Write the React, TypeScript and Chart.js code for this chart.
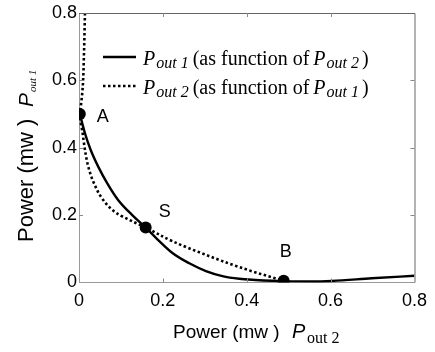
import React, { useEffect, useRef } from "react";
import { Chart, registerables } from "chart.js";

Chart.register(...registerables);

// ---- data ----
// P_out1 as a function of P_out2 (solid)
const solidX = [0.002, 0.0142, 0.0277, 0.0458, 0.0671, 0.0932, 0.127, 0.159, 0.184, 0.2236, 0.263, 0.3027, 0.342, 0.382, 0.421, 0.46, 0.488, 0.55, 0.603, 0.698, 0.8];
const solidY = [0.5, 0.443, 0.394, 0.344, 0.295, 0.245, 0.2, 0.163, 0.132, 0.0868, 0.057, 0.034, 0.019, 0.011, 0.0074, 0.005, 0.004, 0.003, 0.0045, 0.0125, 0.02];
// P_out2 as a function of P_out1 (dotted)
const dottedX = [0.0142, 0.0118, 0.0088, 0.0047, 0.002, 0.0087, 0.0142, 0.0221, 0.0356, 0.0577, 0.0893, 0.125, 0.159, 0.2236, 0.3027, 0.3816, 0.4606, 0.488];
const dottedY = [0.8, 0.676, 0.578, 0.527, 0.5, 0.443, 0.394, 0.344, 0.295, 0.245, 0.206, 0.183, 0.163, 0.122, 0.082, 0.046, 0.015, 0.005];
// marked points
const markerX = [0.002, 0.159, 0.488];
const markerY = [0.5, 0.163, 0.005];
const markerLabels = ["A", "S", "B"];
// ticks
const xTicks = [0, 0.2, 0.4, 0.6, 0.8];
const yTicks = [0, 0.2, 0.4, 0.6, 0.8];
// legend texts: [symbol, subscript, middle, symbol, subscript, end]
const legendSolid = ["P", "out 1", "(as function of", "P", "out 2", ")"];
const legendDotted = ["P", "out 2", "(as function of", "P", "out 1", ")"];
// axis titles
const xTitle = ["Power (mw )", "P", "out 2"];
const yTitle = ["Power (mw )", "P", "out 1"];

const SANS = "'Liberation Sans', Arial, sans-serif";
const SERIF = "'Liberation Serif', 'Times New Roman', serif";

const labelOffsets = [
  { dx: 17, dy: 8 },
  { dx: 13, dy: -11 },
  { dx: -4, dy: -24 },
];

function fmt(v: number) {
  return v === 0 ? "0" : v.toFixed(1);
}

const overlayPlugin = {
  id: "overlay",
  afterDraw(chart: any) {
    const ctx: CanvasRenderingContext2D = chart.ctx;
    const { left, right, top, bottom } = chart.chartArea;
    const xs = chart.scales.x;
    const ys = chart.scales.y;
    ctx.save();

    // top & right border
    ctx.strokeStyle = "#666";
    ctx.lineWidth = 1;
    ctx.beginPath();
    ctx.moveTo(left, top + 0.5);
    ctx.lineTo(right + 0.5, top + 0.5);
    ctx.lineTo(right + 0.5, bottom);
    ctx.stroke();

    // inward tick marks
    ctx.strokeStyle = "#888";
    ctx.beginPath();
    const tl = 4;
    xTicks.forEach((v, i) => {
      if (i === 0 || i === xTicks.length - 1) return;
      const px = Math.round(xs.getPixelForValue(v)) + 0.5;
      ctx.moveTo(px, bottom);
      ctx.lineTo(px, bottom - tl);
      ctx.moveTo(px, top);
      ctx.lineTo(px, top + tl);
    });
    yTicks.forEach((v, i) => {
      if (i === 0 || i === yTicks.length - 1) return;
      const py = Math.round(ys.getPixelForValue(v)) + 0.5;
      ctx.moveTo(left, py);
      ctx.lineTo(left + tl, py);
      ctx.moveTo(right, py);
      ctx.lineTo(right - tl, py);
    });
    ctx.stroke();

    ctx.fillStyle = "#000";
    ctx.textBaseline = "alphabetic";
    ctx.textAlign = "left";

    // point labels
    ctx.font = `18px ${SANS}`;
    markerLabels.forEach((lab, i) => {
      const px = xs.getPixelForValue(markerX[i]);
      const py = ys.getPixelForValue(markerY[i]);
      ctx.fillText(lab, px + labelOffsets[i].dx, py + labelOffsets[i].dy);
    });

    // legend
    const seg = (text: string, font: string, x: number, y: number) => {
      ctx.font = font;
      ctx.fillText(text, x, y);
      return x + ctx.measureText(text).width;
    };
    const drawLegendLine = (parts: string[], y: number, dashed: boolean) => {
      ctx.save();
      ctx.strokeStyle = "#000";
      ctx.lineWidth = dashed ? 2.5 : 2.4;
      ctx.setLineDash(dashed ? [2.5, 2.5] : []);
      ctx.beginPath();
      ctx.moveTo(103, y - 8);
      ctx.lineTo(136, y - 8);
      ctx.stroke();
      ctx.restore();
      const big = `italic 20px ${SERIF}`;
      const sub = `italic 16px ${SERIF}`;
      const main = `20px ${SERIF}`;
      let x = seg(parts[0], big, 143, y);
      x = seg(parts[1], sub, x + 1, y + 3);
      x = seg(parts[2], main, x + 4, y);
      x = seg(parts[3], big, x + 4, y);
      x = seg(parts[4], sub, x + 1, y + 3);
      seg(parts[5], main, x + 3, y);
    };
    drawLegendLine(legendSolid, 65, false);
    drawLegendLine(legendDotted, 94, true);

    // x title
    ctx.font = `19px ${SANS}`;
    ctx.fillText(xTitle[0], 173, 338);
    ctx.font = `italic 20px ${SANS}`;
    ctx.fillText(xTitle[1], 292, 338);
    ctx.font = `16px ${SERIF}`;
    ctx.fillText(xTitle[2], 307, 343);

    // y title (rotated)
    ctx.save();
    ctx.translate(33, 242);
    ctx.rotate(-Math.PI / 2);
    ctx.font = `22px ${SANS}`;
    ctx.fillText(yTitle[0], 0, 0);
    ctx.font = `italic 21px ${SANS}`;
    ctx.fillText(yTitle[1], 135, 0);
    ctx.font = `italic 11px ${SERIF}`;
    ctx.fillText(yTitle[2], 150, 3);
    ctx.restore();

    ctx.restore();
  },
};

export default function App() {
  const ref = useRef<HTMLCanvasElement | null>(null);

  useEffect(() => {
    if (!ref.current) return;
    const toPts = (xs: number[], ys: number[]) => xs.map((x, i) => ({ x, y: ys[i] }));
    const chart = new Chart(ref.current, {
      type: "scatter",
      data: {
        datasets: [
          {
            label: "markers",
            data: toPts(markerX, markerY),
            showLine: false,
            pointRadius: 6,
            pointBackgroundColor: "#000",
            pointBorderColor: "#000",
            pointBorderWidth: 0,
          },
          {
            label: "Pout1 (as function of Pout2)",
            data: toPts(solidX, solidY),
            showLine: true,
            borderColor: "#000",
            borderWidth: 2.4,
            pointRadius: 0,
            cubicInterpolationMode: "monotone",
            fill: false,
          },
          {
            label: "Pout2 (as function of Pout1)",
            data: toPts(dottedX, dottedY),
            showLine: true,
            indexAxis: "y",
            borderColor: "#000",
            borderWidth: 2.6,
            borderDash: [2.5, 2.5],
            pointRadius: 0,
            cubicInterpolationMode: "monotone",
            fill: false,
          },
        ],
      },
      options: {
        responsive: false,
        animation: false,
        events: [],
        layout: { padding: { top: 13, right: 18.5, left: 0, bottom: 0 } },
        plugins: {
          legend: { display: false },
          tooltip: { enabled: false },
        },
        scales: {
          x: {
            type: "linear",
            min: 0,
            max: 0.8,
            afterBuildTicks: (s: any) => {
              s.ticks = xTicks.map((v) => ({ value: v }));
            },
            afterFit: (s: any) => {
              s.height = 69.5;
            },
            ticks: {
              callback: (v: any) => fmt(Number(v)),
              font: { family: SANS, size: 18 },
              color: "#000",
              padding: 8,
              maxRotation: 0,
            },
            grid: { drawOnChartArea: false, drawTicks: false },
            border: { display: true, color: "#999", width: 1 },
          },
          y: {
            type: "linear",
            min: 0,
            max: 0.8,
            afterBuildTicks: (s: any) => {
              s.ticks = yTicks.map((v) => ({ value: v }));
            },
            afterFit: (s: any) => {
              s.width = 79;
            },
            ticks: {
              callback: (v: any) => fmt(Number(v)),
              font: { family: SANS, size: 18 },
              color: "#000",
              padding: 2,
            },
            grid: { drawOnChartArea: false, drawTicks: false },
            border: { display: true, color: "#999", width: 1 },
          },
        },
      },
      plugins: [overlayPlugin],
    });
    return () => chart.destroy();
  }, []);

  return (
    <div style={{ position: "absolute", left: 0, top: 0, width: 435, height: 352, background: "#fff" }}>
      <canvas ref={ref} width={435} height={352} style={{ display: "block" }} />
    </div>
  );
}
